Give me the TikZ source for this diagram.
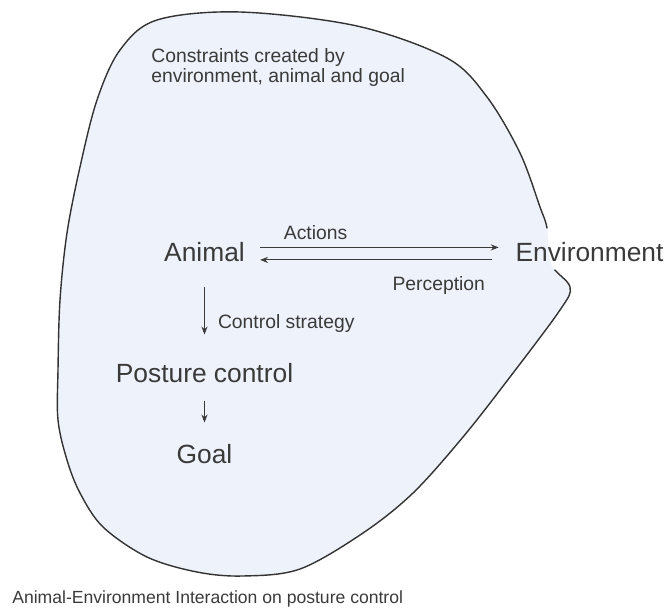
\documentclass[tikz,border=0pt]{standalone}
\usepackage{fontspec}
\setmainfont{Liberation Sans}
\usepackage{tikz}
\usetikzlibrary{arrows.meta,positioning,backgrounds}
\definecolor{inkgray}{HTML}{3A3A3A}
\definecolor{blobfill}{HTML}{EEF2FB}
\tikzset{
	big node/.style = {inner sep=0pt, text=inkgray, font=\fontsize{15}{18}\selectfont},
	small label/.style = {inner sep=0pt, text=inkgray, font=\fontsize{11}{11.5}\selectfont},
	flow/.style = {-{Stealth[length=4.5pt,width=3.5pt]}, line width=0.6pt, draw=inkgray}
}

\begin{document}
\begin{tikzpicture}[node distance=2.42cm, auto]
    \useasboundingbox (0,0) rectangle (13.4,-12.16);

    % Nodes
    \node (constraints) [small label, align=left, anchor=north west] at (3.02,-0.96)
        {Constraints created by\\environment, animal and goal};

    \node (animal) [big node] at (4.09,-5.05) {Animal};
    \node (environment) [big node, right of=animal, node distance=7.7cm] {Environment};
    \node (posture) [big node, below of=animal] {Posture control};
    \node (goal) [big node, below of=posture, node distance=1.62cm] {Goal};

    \node (caption) [small label, font=\fontsize{10}{12}\selectfont, anchor=base west] at (0.24,-12.06)
        {Animal-Environment Interaction on posture control};

    % Arrows
    \draw [flow, shorten <=0.3cm, shorten >=0.33cm] ([yshift=0.29cm]animal.base east) to
        node [small label, pos=0.261, above=0.15cm] {Actions} ([yshift=0.29cm]environment.base west);
    \draw [flow, shorten <=0.47cm, shorten >=0.3cm] ([yshift=0.04cm]environment.base west) to
        node [small label, pos=0.283, below=0.32cm] {Perception} ([yshift=0.04cm]animal.base east);
    \draw [flow, shorten <=0.48cm, shorten >=0.58cm] (animal) to
        node [small label, pos=0.6, right=0.26cm] {Control strategy} (posture);
    \draw [flow, shorten <=0.34cm, shorten >=0.44cm] (posture) to (goal);

    % Constraint region, outline broken where it meets the Environment label
    \begin{scope}[on background layer]
        \def\blobpath{plot [smooth cycle, tension=0.55] coordinates {
            (4.80,-0.24) (7.14,-0.52) (8.94,-1.16) (9.74,-1.94) (10.40,-3.06)
            (10.80,-4.14) (10.94,-4.56) (11.02,-5.28) (11.40,-5.74) (11.20,-6.20)
            (10.20,-7.54) (9.26,-8.74) (8.26,-9.86) (7.26,-10.66) (6.00,-11.38)
            (4.86,-11.52) (3.94,-11.44) (2.94,-11.14) (2.06,-10.54) (1.60,-9.86)
            (1.34,-9.20) (1.16,-8.40) (1.16,-7.40) (1.20,-6.00) (1.34,-4.66)
            (1.60,-3.34) (1.94,-2.00) (2.40,-1.00) (3.14,-0.40)}}
        \fill [blobfill] \blobpath;
        \begin{scope}[even odd rule]
            \clip (0,0) rectangle (13.4,-12.16)
                ([yshift=-0.14cm]environment.south west) rectangle ([yshift=0.28cm]environment.north east);
            \draw [line width=0.8pt, draw=black!80] \blobpath;
        \end{scope}
    \end{scope}
\end{tikzpicture}
\end{document}
